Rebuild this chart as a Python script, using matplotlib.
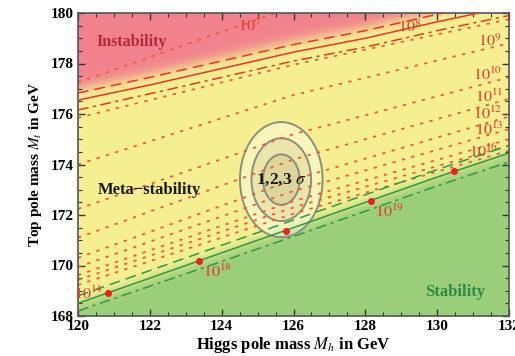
import numpy as np
import matplotlib
matplotlib.use("Agg")
import matplotlib.pyplot as plt
from matplotlib.patches import Ellipse
from matplotlib.ticker import MultipleLocator

plt.rcParams['font.family'] = 'serif'
plt.rcParams['font.serif'] = ['Liberation Serif', 'DejaVu Serif']
plt.rcParams['mathtext.fontset'] = 'stix'

# instability boundary (red) and its alpha_s bands
inst_mh = [120, 122, 124, 126, 128, 130, 132]
inst_mt = [176.55, 177.15, 177.8, 178.45, 179.0, 179.65, 180.25]
inst_up = [176.83, 177.45, 178.1, 178.75, 179.3, 179.95, 180.55]
inst_lo = [176.16, 176.8, 177.45, 178.1, 178.65, 179.3, 179.9]

# stability boundary (green) and its bands
stab_mh = [120, 122, 124, 126, 128, 130, 132]
stab_mt = [168.5, 169.5, 170.5, 171.5, 172.5, 173.5, 174.45]
stab_up = [168.8, 169.8, 170.8, 171.8, 172.8, 173.8, 174.75]
stab_lo = [168.2, 169.18, 170.16, 171.15, 172.15, 173.15, 174.1]

# instability scale contours (Mt at Mh = 120, 126, 132)
lam_mh = [120, 126, 132]
lam_lines = {
    7: [177.25, 180.25, 183.0],
    8: [175.85, 177.95, 179.75],
    9: [174.0, 176.75, 178.8],
    10: [172.24, 175.2, 177.45],
    11: [171.1, 174.2, 176.6],
    12: [170.3, 173.4, 175.9],
    13: [169.94, 172.95, 175.4],
    14: [169.62, 172.55, 175.0],
    15: [169.43, 172.3, 174.75],
    16: [169.23, 172.05, 174.55],
}

# labels of the contours
lab_text = [r'$10^{7}$', r'$10^{8}$', r'$10^{9}$', r'$10^{10}$', r'$10^{11}$', r'$10^{12}$',
            r'$10^{13}$', r'$10^{16}$', r'$10^{19}$', r'$10^{18}$', r'$10^{14}$']
lab_mh = [124.78, 129.22, 131.45, 131.4, 131.45, 131.4, 131.45, 131.3, 128.67, 123.89, 120.3]
lab_mt = [179.45, 179.4, 178.85, 177.54, 176.67, 175.98, 175.35, 174.5, 172.12, 169.74, 168.87]

# red dots on the stability line
dot_mh = [120.83, 123.36, 125.8, 128.17, 130.47]
dot_mt = [168.91, 170.16, 171.38, 172.56, 173.73]

# experimental ellipses (1,2,3 sigma)
ell_mh, ell_mt = 125.66, 173.4
ell_a = [1.15, 0.83, 0.51]
ell_b = [2.28, 1.64, 1.0]

red = '#E8352C'
green = '#2E9A44'

fig = plt.figure(figsize=(5.15, 3.56), dpi=100)
ax = fig.add_axes([78 / 515, 1 - 316 / 356, 431 / 515, 303 / 356])

# background colour regions
mh_g = np.linspace(120, 132, 500)
mt_g = np.linspace(168, 180, 500)
MH, MT = np.meshgrid(mh_g, mt_g)
ib = np.interp(MH, inst_mh, inst_mt)
sb = np.interp(MH, stab_mh, stab_mt)
w_r = 1 / (1 + np.exp(-(MT - ib - 0.45) / 0.14))
w_g = 1 / (1 + np.exp((MT - sb + 0.02) / 0.13))
c_y = np.array([246, 240, 146]) / 255
c_r = np.array([241, 130, 140]) / 255
c_gr = np.array([155, 206, 122]) / 255
w_y = np.clip(1 - w_r - w_g, 0, 1)
img = w_y[..., None] * c_y + w_r[..., None] * c_r + w_g[..., None] * c_gr
ax.imshow(img, extent=[120, 132, 168, 180], origin='lower', aspect='auto', zorder=0)

# ellipses
fills = [(1, 1, 1, 0.38), (0.55, 0.5, 0.25, 0.12), (0.55, 0.5, 0.25, 0.15)]
for a, b, fc in zip(ell_a, ell_b, fills):
    ax.add_patch(Ellipse((ell_mh, ell_mt), 2 * a, 2 * b, facecolor=fc,
                         edgecolor='#8f8d7c', lw=1.4, zorder=1))

for k, mt in lam_lines.items():
    ax.plot(lam_mh, mt, color='#EE5A3A', lw=1.3, linestyle=(0, (1.8, 3.6)), zorder=2)

ax.plot(inst_mh, inst_mt, color=red, lw=1.1, zorder=3)
ax.plot(inst_mh, inst_up, color=red, lw=1.1, linestyle=(0, (7, 4)), zorder=3)
ax.plot(inst_mh, inst_lo, color=red, lw=1.1, linestyle=(0, (7, 3, 2, 3)), zorder=3)

ax.plot(stab_mh, stab_mt, color=green, lw=1.1, zorder=3)
ax.plot(stab_mh, stab_up, color=green, lw=1.1, linestyle=(0, (7, 4)), zorder=3)
ax.plot(stab_mh, stab_lo, color=green, lw=1.1, linestyle=(0, (7, 3, 2, 3)), zorder=3)

ax.plot(dot_mh, dot_mt, 'o', color='#F01E1E', ms=4, zorder=4)

for t, x, y in zip(lab_text, lab_mh, lab_mt):
    ax.text(x, y, t, color=red, fontsize=11.5, ha='center', va='center', zorder=5)

ax.text(121.49, 178.85, 'Instability', color='#B5283A', fontsize=11.5, fontweight='bold',
        ha='center', va='center', zorder=5)
ax.text(122.0, 172.99, 'Meta\u2212stability', color='#1a1a1a', fontsize=12, fontweight='bold',
        ha='center', va='center', zorder=5)
ax.text(130.5, 168.95, 'Stability', color='#2E8B44', fontsize=12, fontweight='bold',
        ha='center', va='center', zorder=5)
ax.text(125.67, 173.39, r'1,2,3 $\sigma$', color='#1a1a1a', fontsize=12.5, fontweight='bold',
        ha='center', va='center', zorder=5)

ax.set_xlim(120, 132)
ax.set_ylim(168, 180)
ax.xaxis.set_major_locator(MultipleLocator(2))
ax.xaxis.set_minor_locator(MultipleLocator(0.5))
ax.yaxis.set_major_locator(MultipleLocator(2))
ax.yaxis.set_minor_locator(MultipleLocator(0.5))
ax.tick_params(which='both', direction='in', top=True, right=True, color='#333333')
ax.tick_params(which='major', length=5, width=1.0, labelsize=11, pad=3)
ax.tick_params(which='minor', length=3, width=0.8)
for lbl in ax.get_xticklabels() + ax.get_yticklabels():
    lbl.set_fontweight('bold')
for s in ax.spines.values():
    s.set_color('#555555')
    s.set_linewidth(1.2)

ax.set_xlabel(r'Higgs pole mass $M_h$ in GeV', fontsize=12, fontweight='bold', labelpad=1)
ax.set_ylabel(r'Top pole mass $M_t$ in GeV', fontsize=11, fontweight='bold', labelpad=5)

fig.savefig('out.png', dpi=100)
